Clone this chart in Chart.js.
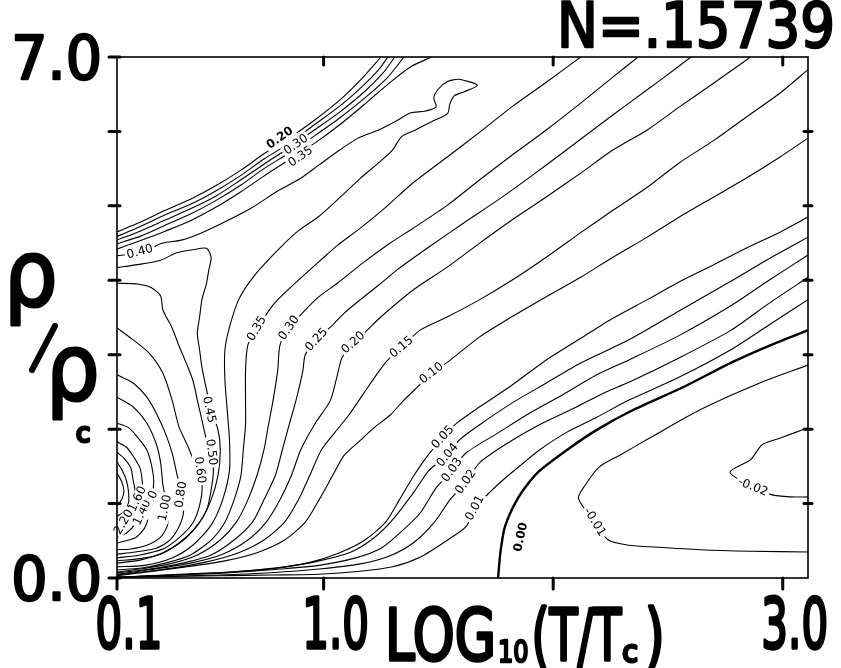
<!DOCTYPE html>
<html>
<head>
<meta charset="utf-8">
<script src="https://cdn.jsdelivr.net/npm/chart.js@4"></script>
<style>
  html, body { margin: 0; padding: 0; background: #fff; }
</style>
</head>
<body>
<canvas id="myChart" width="841" height="668"></canvas>
<script>
// axes: LOG10(T/Tc) across, rho/rhoc up
const xMin = 0.1, xMax = 3.11, yMin = 0, yMax = 7;
const xTickValues = [0.1, 1.0, 2.0, 3.0];
const xTickLabels = ['0.1', '1.0', '', '3.0'];
const yTickValues = [0, 1, 2, 3, 4, 5, 6, 7];
const yTickLabels = ['0.0', '', '', '', '', '', '', '7.0'];

// contour lines, [x, y] in axis units
const band1 = [[0.10,4.65],[0.20,4.78],[0.31,4.94],[0.42,5.09],[0.53,5.27],[0.64,5.48],[0.74,5.70],[0.85,5.91],[0.96,6.15],[1.07,6.42],[1.16,6.69],[1.25,7.00]];
const band2 = [[0.10,4.59],[0.20,4.72],[0.31,4.88],[0.42,5.02],[0.53,5.20],[0.64,5.41],[0.74,5.63],[0.85,5.84],[0.96,6.09],[1.07,6.34],[1.17,6.61],[1.24,6.83],[1.28,7.00]];
const band3 = [[0.10,4.54],[0.20,4.66],[0.31,4.81],[0.42,4.96],[0.53,5.13],[0.64,5.35],[0.74,5.56],[0.85,5.78],[0.96,6.02],[1.07,6.26],[1.18,6.54],[1.26,6.79],[1.31,7.00]];
const band4 = [[0.10,4.49],[0.20,4.59],[0.31,4.74],[0.42,4.89],[0.53,5.07],[0.64,5.28],[0.74,5.50],[0.85,5.71],[0.96,5.94],[1.07,6.18],[1.18,6.45],[1.28,6.73],[1.35,7.00]];
const band5 = [[0.10,4.42],[0.20,4.53],[0.31,4.66],[0.42,4.80],[0.53,4.98],[0.64,5.19],[0.74,5.40],[0.85,5.62],[0.96,5.84],[1.07,6.09],[1.18,6.37],[1.29,6.66],[1.38,6.87],[1.47,7.00]];
const hook040 = [[0.10,4.33],[0.20,4.37],[0.30,4.50],[0.38,4.54],[0.47,4.64],[0.58,4.80],[0.68,4.96],[0.80,5.20],[0.90,5.37],[0.98,5.55],[1.07,5.75],[1.15,5.91],[1.24,6.02],[1.31,6.13],[1.38,6.25],[1.44,6.27],[1.49,6.33],[1.48,6.45],[1.50,6.57],[1.54,6.67],[1.59,6.70],[1.67,6.62],[1.61,6.53],[1.57,6.48],[1.55,6.37],[1.54,6.24],[1.47,6.13],[1.40,6.02],[1.34,5.93],[1.30,5.75],[1.24,5.58],[1.16,5.37],[1.07,5.11],[0.98,4.86],[0.88,4.64],[0.78,4.34],[0.69,4.03],[0.63,3.74],[0.59,3.37],[0.57,3.06],[0.57,2.66],[0.58,2.26],[0.59,1.85],[0.59,1.45],[0.56,1.05],[0.51,0.71],[0.43,0.44],[0.34,0.27],[0.22,0.17],[0.10,0.15]];
const loop045 = [[0.10,4.17],[0.19,4.21],[0.29,4.27],[0.36,4.37],[0.43,4.41],[0.49,4.43],[0.51,4.31],[0.50,4.14],[0.49,3.96],[0.47,3.74],[0.46,3.51],[0.45,3.29],[0.46,3.06],[0.47,2.83],[0.49,2.53],[0.51,2.26],[0.54,1.99],[0.55,1.72],[0.54,1.38],[0.51,1.05],[0.46,0.75],[0.39,0.51],[0.30,0.34],[0.20,0.24],[0.10,0.20]];
const line050 = [[0.10,3.96],[0.19,3.95],[0.25,3.90],[0.29,3.79],[0.30,3.60],[0.34,3.36],[0.37,3.12],[0.40,2.90],[0.43,2.66],[0.45,2.39],[0.47,2.12],[0.49,1.85],[0.51,1.65],[0.52,1.45],[0.51,1.18],[0.49,0.91],[0.44,0.67],[0.37,0.47],[0.29,0.32],[0.20,0.26],[0.10,0.23]];
const line060 = [[0.10,3.36],[0.17,3.20],[0.24,3.02],[0.30,2.75],[0.34,2.39],[0.37,2.03],[0.41,1.76],[0.44,1.52],[0.47,1.25],[0.46,0.98],[0.43,0.74],[0.37,0.54],[0.30,0.39],[0.20,0.31],[0.10,0.27]];
const line080 = [[0.10,2.73],[0.17,2.62],[0.23,2.43],[0.27,2.22],[0.31,1.95],[0.34,1.68],[0.36,1.41],[0.38,1.12],[0.39,0.89],[0.37,0.69],[0.33,0.51],[0.27,0.40],[0.18,0.35],[0.10,0.32]];
const line100 = [[0.10,2.43],[0.17,2.30],[0.23,2.08],[0.27,1.81],[0.29,1.55],[0.30,1.25],[0.32,0.94],[0.32,0.71],[0.29,0.55],[0.23,0.44],[0.16,0.39],[0.10,0.38]];
const line120 = [[0.10,2.08],[0.15,2.02],[0.19,1.89],[0.23,1.72],[0.25,1.52],[0.26,1.29],[0.25,1.05],[0.24,0.85],[0.22,0.67],[0.18,0.54],[0.10,0.47]];
const line140 = [[0.10,1.83],[0.14,1.76],[0.17,1.64],[0.20,1.48],[0.21,1.29],[0.21,1.09],[0.20,0.89],[0.18,0.73],[0.14,0.60],[0.10,0.55]];
const line160 = [[0.10,1.69],[0.13,1.61],[0.16,1.48],[0.17,1.32],[0.18,1.14],[0.17,0.95],[0.15,0.81],[0.10,0.69]];
const line180 = [[0.10,1.56],[0.12,1.46],[0.14,1.32],[0.15,1.16],[0.15,1.01],[0.13,0.89],[0.10,0.83]];
const line220 = [[0.10,1.41],[0.12,1.30],[0.13,1.17],[0.12,1.05],[0.10,0.97]];
const c035 = [[2.12,7.00],[1.97,6.66],[1.82,6.33],[1.68,5.99],[1.54,5.66],[1.39,5.31],[1.27,4.98],[1.16,4.70],[1.06,4.47],[0.98,4.25],[0.90,4.03],[0.83,3.83],[0.78,3.67],[0.71,3.35],[0.67,3.13],[0.66,2.79],[0.66,2.39],[0.66,2.06],[0.65,1.72],[0.64,1.38],[0.61,1.05],[0.57,0.75],[0.51,0.51],[0.42,0.31],[0.31,0.20],[0.20,0.13],[0.10,0.11]];
const c030 = [[2.37,7.00],[2.26,6.73],[2.12,6.38],[1.97,6.02],[1.82,5.68],[1.68,5.35],[1.54,5.01],[1.39,4.70],[1.29,4.50],[1.17,4.23],[1.06,3.96],[0.98,3.78],[0.92,3.60],[0.85,3.36],[0.81,3.13],[0.80,2.79],[0.78,2.39],[0.76,2.06],[0.74,1.72],[0.71,1.38],[0.67,1.05],[0.62,0.75],[0.55,0.51],[0.45,0.31],[0.33,0.19],[0.20,0.12],[0.10,0.08]];
const c025 = [[2.60,7.00],[2.48,6.72],[2.33,6.38],[2.19,6.06],[2.04,5.71],[1.90,5.39],[1.76,5.08],[1.61,4.77],[1.46,4.45],[1.32,4.14],[1.25,3.96],[1.16,3.74],[1.09,3.56],[1.04,3.40],[0.97,3.20],[0.92,3.00],[0.91,2.79],[0.88,2.39],[0.85,2.06],[0.82,1.72],[0.79,1.38],[0.74,1.05],[0.69,0.75],[0.61,0.51],[0.51,0.31],[0.37,0.19],[0.22,0.11],[0.10,0.07]];
const c020 = [[2.86,7.00],[2.70,6.65],[2.55,6.33],[2.41,6.02],[2.26,5.75],[2.12,5.44],[1.97,5.12],[1.82,4.81],[1.68,4.50],[1.54,4.18],[1.39,3.87],[1.25,3.51],[1.19,3.33],[1.13,3.16],[1.08,2.96],[1.06,2.73],[1.03,2.39],[0.96,2.06],[0.90,1.72],[0.86,1.38],[0.81,1.05],[0.75,0.75],[0.67,0.51],[0.56,0.32],[0.42,0.20],[0.24,0.11],[0.10,0.05]];
const c015 = [[3.11,6.83],[2.99,6.52],[2.84,6.19],[2.70,5.88],[2.55,5.58],[2.41,5.25],[2.26,4.94],[2.12,4.64],[1.97,4.31],[1.82,4.00],[1.68,3.74],[1.54,3.51],[1.42,3.33],[1.34,3.10],[1.28,2.93],[1.23,2.73],[1.17,2.46],[1.11,2.19],[1.05,1.96],[0.99,1.72],[0.94,1.38],[0.89,1.05],[0.83,0.75],[0.74,0.51],[0.63,0.34],[0.48,0.21],[0.31,0.12],[0.10,0.04]];
const c010 = [[3.11,5.91],[2.99,5.66],[2.84,5.37],[2.70,5.12],[2.55,4.85],[2.41,4.58],[2.26,4.31],[2.12,4.04],[1.97,3.78],[1.82,3.51],[1.68,3.24],[1.54,2.90],[1.47,2.75],[1.41,2.57],[1.35,2.39],[1.29,2.19],[1.22,2.02],[1.16,1.85],[1.09,1.65],[1.04,1.38],[0.98,1.05],[0.92,0.75],[0.83,0.51],[0.71,0.34],[0.57,0.23],[0.40,0.15],[0.10,0.03]];
const c005 = [[3.11,4.85],[2.99,4.65],[2.84,4.43],[2.70,4.21],[2.55,3.98],[2.41,3.74],[2.26,3.49],[2.12,3.22],[1.97,2.93],[1.82,2.59],[1.68,2.30],[1.58,2.08],[1.52,1.89],[1.45,1.63],[1.39,1.36],[1.33,1.05],[1.27,0.75],[1.18,0.51],[1.07,0.34],[0.94,0.21],[0.79,0.13],[0.59,0.08],[0.37,0.05],[0.10,0.01]];
const c004 = [[3.11,4.58],[2.94,4.29],[2.77,3.98],[2.55,3.59],[2.33,3.20],[2.12,2.89],[1.97,2.62],[1.82,2.35],[1.68,2.06],[1.59,1.85],[1.54,1.65],[1.46,1.45],[1.39,1.14],[1.30,0.78],[1.22,0.54],[1.12,0.35],[0.98,0.23],[0.83,0.15],[0.64,0.09],[0.42,0.05],[0.10,0.01]];
const c003 = [[3.11,4.34],[2.94,4.00],[2.77,3.65],[2.55,3.26],[2.33,2.93],[2.19,2.73],[2.04,2.46],[1.90,2.22],[1.76,1.95],[1.62,1.68],[1.56,1.45],[1.49,1.21],[1.42,0.87],[1.33,0.60],[1.25,0.40],[1.14,0.27],[0.98,0.17],[0.81,0.12],[0.59,0.07],[0.37,0.04],[0.10,0.01]];
const c002 = [[3.11,4.04],[2.94,3.69],[2.77,3.32],[2.55,2.96],[2.33,2.63],[2.23,2.50],[2.09,2.28],[1.94,2.06],[1.80,1.81],[1.68,1.55],[1.62,1.29],[1.55,1.05],[1.48,0.74],[1.39,0.47],[1.29,0.30],[1.16,0.19],[0.98,0.12],[0.77,0.07],[0.55,0.04],[0.10,0.01]];
const c001 = [[3.11,3.74],[2.94,3.40],[2.77,3.06],[2.55,2.70],[2.33,2.39],[2.19,2.16],[2.06,1.96],[1.94,1.72],[1.86,1.52],[1.79,1.34],[1.72,1.14],[1.66,0.94],[1.62,0.69],[1.54,0.51],[1.42,0.28],[1.30,0.15],[1.16,0.09],[0.98,0.05],[0.77,0.04],[0.55,0.03],[0.10,0.01]];
const c000 = [[1.76,0.00],[1.77,0.34],[1.79,0.69],[1.85,1.09],[1.93,1.41],[2.06,1.72],[2.19,1.99],[2.35,2.26],[2.57,2.57],[2.78,2.90],[2.94,3.12],[3.11,3.33]];
const cm001 = [[3.11,2.86],[2.90,2.62],[2.64,2.26],[2.42,1.88],[2.29,1.65],[2.20,1.49],[2.14,1.25],[2.11,1.07],[2.18,0.75],[2.24,0.51],[2.33,0.44],[2.42,0.42],[2.64,0.38],[2.86,0.36],[3.11,0.35]];
const cm002 = [[3.11,2.02],[2.99,1.88],[2.91,1.79],[2.86,1.59],[2.77,1.42],[2.87,1.22],[2.95,1.12],[3.03,1.09],[3.11,1.09]];

const contours = [band1, band2, band3, band4, band5, hook040, loop045, line050, line060,
  line080, line100, line120, line140, line160, line180, line220,
  c035, c030, c025, c020, c015, c010, c005, c004, c003, c002, c001, c000, cm001, cm002];
const heavy = [c000];

// contour labels: text, position in axis units, rotation in degrees
const contourLabels = [
  { t: '0.20', x: 0.81, y: 5.91, r: -35, b: true },
  { t: '0.30', x: 0.88, y: 5.82, r: -35 },
  { t: '0.35', x: 0.90, y: 5.66, r: -35 },
  { t: '0.40', x: 0.20, y: 4.38, r: -15 },
  { t: '0.45', x: 0.50, y: 2.26, r: 78 },
  { t: '0.50', x: 0.51, y: 1.69, r: 82 },
  { t: '0.60', x: 0.46, y: 1.45, r: 82 },
  { t: '0.80', x: 0.38, y: 1.12, r: -82 },
  { t: '1.00', x: 0.31, y: 0.94, r: -78 },
  { t: '1.20', x: 0.24, y: 1.00, r: -65 },
  { t: '1.40', x: 0.21, y: 0.88, r: -65 },
  { t: '1.60', x: 0.19, y: 1.06, r: -65 },
  { t: '2.20', x: 0.13, y: 0.75, r: -60 },
  { t: '0.35', x: 0.71, y: 3.35, r: -60 },
  { t: '0.30', x: 0.85, y: 3.36, r: -55 },
  { t: '0.25', x: 0.97, y: 3.20, r: -48 },
  { t: '0.20', x: 1.13, y: 3.16, r: -42 },
  { t: '0.15', x: 1.34, y: 3.10, r: -40 },
  { t: '0.10', x: 1.47, y: 2.75, r: -38 },
  { t: '0.05', x: 1.52, y: 1.89, r: -48 },
  { t: '0.04', x: 1.54, y: 1.65, r: -50 },
  { t: '0.03', x: 1.56, y: 1.45, r: -55 },
  { t: '0.02', x: 1.62, y: 1.29, r: -55 },
  { t: '0.01', x: 1.66, y: 0.94, r: -62 },
  { t: '0.00', x: 1.86, y: 0.55, r: -78, b: true, nobg: true },
  { t: '-0.01', x: 2.18, y: 0.75, r: 58 },
  { t: '-0.02', x: 2.87, y: 1.22, r: 22 }
];

const FONT = '"DejaVu Sans", "Liberation Sans", sans-serif';

// filled text, thickened a little with a stroke of the same colour
function drawText(ctx, str, x, y, size, sx, align, thick) {
  ctx.save();
  ctx.font = size + 'px ' + FONT;
  ctx.translate(x, y);
  ctx.scale(sx, 1);
  ctx.textAlign = align || 'left';
  ctx.textBaseline = 'alphabetic';
  ctx.lineJoin = 'round';
  ctx.fillText(str, 0, 0);
  if (thick) {
    ctx.lineWidth = thick;
    ctx.strokeText(str, 0, 0);
  }
  const w = ctx.measureText(str).width * sx;
  ctx.restore();
  return w;
}

const labelPlugin = {
  id: 'contourLabels',
  afterDatasetsDraw(chart) {
    const { ctx, scales: { x, y } } = chart;
    ctx.save();
    contourLabels.forEach(l => {
      const px = x.getPixelForValue(l.x), py = y.getPixelForValue(l.y);
      ctx.save();
      ctx.translate(px, py);
      ctx.rotate(l.r * Math.PI / 180);
      ctx.font = (l.b ? 'bold ' : '') + '12px ' + FONT;
      const w = ctx.measureText(l.t).width;
      if (!l.nobg) {
        ctx.fillStyle = '#fff';
        ctx.fillRect(-w / 2 - 2, -6, w + 4, 12);
      }
      ctx.fillStyle = '#000';
      ctx.textAlign = 'center';
      ctx.textBaseline = 'middle';
      ctx.fillText(l.t, 0, 0);
      ctx.restore();
    });
    ctx.restore();
  }
};

const framePlugin = {
  id: 'frame',
  afterDraw(chart) {
    const { ctx, chartArea: a, scales: { x, y } } = chart;
    ctx.save();
    ctx.strokeStyle = '#000';
    ctx.fillStyle = '#000';
    ctx.lineWidth = 1.6;
    ctx.strokeRect(a.left, a.top, a.right - a.left, a.bottom - a.top);

    ctx.lineWidth = 3;
    ctx.lineCap = 'round';
    xTickValues.forEach(v => {
      const px = x.getPixelForValue(v);
      ctx.beginPath(); ctx.moveTo(px, a.bottom); ctx.lineTo(px, a.bottom + 11); ctx.stroke();
      if (v > xMin) { ctx.beginPath(); ctx.moveTo(px, a.top); ctx.lineTo(px, a.top + 8); ctx.stroke(); }
    });
    yTickValues.forEach(v => {
      const py = y.getPixelForValue(v);
      ctx.beginPath(); ctx.moveTo(a.left - 8, py); ctx.lineTo(a.left + 3, py); ctx.stroke();
      if (v > yMin && v < yMax) { ctx.beginPath(); ctx.moveTo(a.right - 4, py); ctx.lineTo(a.right + 4, py); ctx.stroke(); }
    });

    // tick labels
    yTickValues.forEach((v, i) => {
      if (!yTickLabels[i]) return;
      drawText(ctx, yTickLabels[i], a.left - 15, y.getPixelForValue(v) + 22, 60, 0.95, 'right', 2.5);
    });
    xTickValues.forEach((v, i) => {
      if (!xTickLabels[i]) return;
      drawText(ctx, xTickLabels[i], x.getPixelForValue(v) + 12, a.bottom + 70, 70, 0.6, 'center', 3.5);
    });

    // x title: LOG10(T/Tc)
    let cx = 385;
    const base = 660;
    cx += drawText(ctx, 'LOG', cx, base, 72, 0.74, 'left', 3.5);
    cx += drawText(ctx, '10', cx + 2, base + 2, 30, 0.8, 'left', 2.5) + 5;
    cx += drawText(ctx, '(T/T', cx, base, 72, 0.64, 'left', 3.5);
    cx += drawText(ctx, 'c', cx + 1, base + 2, 30, 0.95, 'left', 3) + 8;
    drawText(ctx, ')', cx, base, 72, 0.7, 'left', 3.5);

    // y title: rho / rho_c
    drawText(ctx, 'ρ', 4, 306, 92, 0.92, 'left', 3);
    ctx.lineWidth = 6;
    ctx.beginPath(); ctx.moveTo(55, 326); ctx.lineTo(32, 370); ctx.stroke();
    drawText(ctx, 'ρ', 46, 400, 92, 0.92, 'left', 3);
    drawText(ctx, 'c', 76, 442, 26, 1, 'left', 3);

    // sample size
    ctx.save();
    ctx.font = '62px ' + FONT;
    const nw = ctx.measureText('N=.15739').width;
    ctx.restore();
    drawText(ctx, 'N=.15739', 835, 47, 62, 278 / nw, 'right', 2.5);
    ctx.restore();
  }
};

const ctx = document.getElementById('myChart').getContext('2d');

const chart = new Chart(ctx, {
  type: 'scatter',
  data: {
    datasets: contours.map(c => ({
      data: c.map(p => ({ x: p[0], y: p[1] })),
      showLine: true,
      borderColor: '#000',
      borderWidth: heavy.includes(c) ? 2.4 : 1.1,
      pointRadius: 0,
      tension: 0.25,
      fill: false
    }))
  },
  options: {
    responsive: false,
    animation: false,
    layout: { padding: { left: 117, right: 33, top: 57, bottom: 90 } },
    plugins: { legend: { display: false }, tooltip: { enabled: false } },
    scales: {
      x: { type: 'linear', min: xMin, max: xMax, display: false },
      y: { type: 'linear', min: yMin, max: yMax, display: false }
    }
  },
  plugins: [labelPlugin, framePlugin]
});
</script>
</body>
</html>
